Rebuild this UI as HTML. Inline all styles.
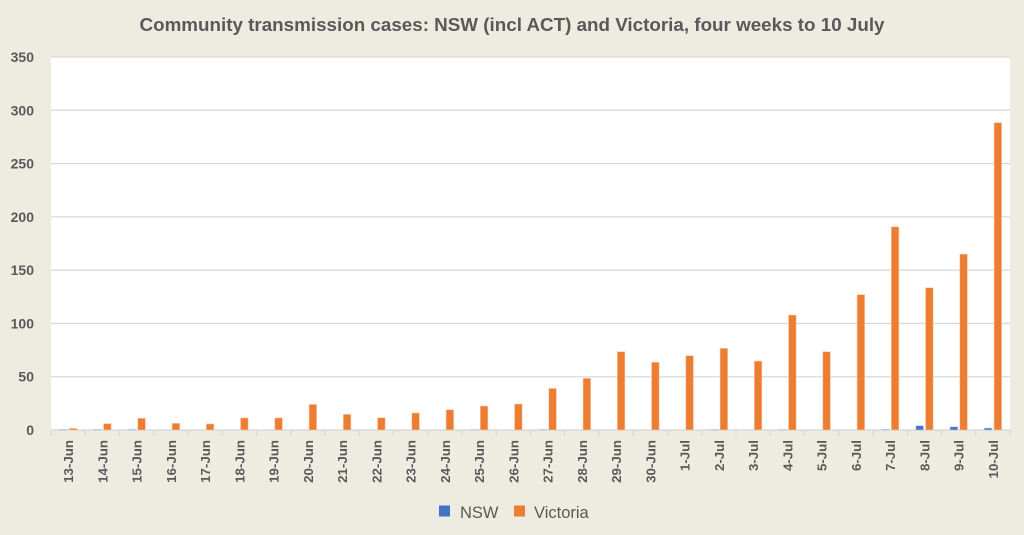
<!DOCTYPE html>
<html>
<head>
<meta charset="utf-8">
<style>
html,body{margin:0;padding:0;background:#eeebe1;}
svg{display:block;}
text{font-family:"Liberation Sans",Arial,sans-serif;fill:#595959;}
</style>
</head>
<body>
<svg width="1024" height="535" viewBox="0 0 1024 535" xmlns="http://www.w3.org/2000/svg">
<rect x="0" y="0" width="1024" height="535" fill="#eeebe1"/>
<text x="512" y="31" text-anchor="middle" font-size="18" font-weight="bold" textLength="745" lengthAdjust="spacingAndGlyphs">Community transmission cases: NSW (incl ACT) and Victoria, four weeks to 10 July</text>
<rect x="51" y="57" width="959" height="373" fill="#ffffff"/>
<g id="grid" stroke="#d9d9d9" stroke-width="1.3"></g>
<g id="ylab" font-size="14" font-weight="bold" text-anchor="end"></g>
<g id="bars"></g>
<g id="xlab" font-size="13.3" font-weight="bold" text-anchor="end"></g>
<rect x="439" y="505.5" width="11" height="11" fill="#4472c4"/>
<text x="460" y="518" font-size="16.5">NSW</text>
<rect x="514" y="505.5" width="11" height="11" fill="#ed7d31"/>
<text x="534" y="518" font-size="16.5">Victoria</text>
</svg>
<script>
(function(){
var NS="http://www.w3.org/2000/svg";
function el(tag,attrs,parent,txt){var e=document.createElementNS(NS,tag);for(var k in attrs)e.setAttribute(k,attrs[k]);if(txt!==undefined)e.textContent=txt;parent.appendChild(e);return e;}
var L=51,R=1010,B=430,T=57,sc=(B-T)/350;
var grid=document.getElementById('grid'),ylab=document.getElementById('ylab'),bars=document.getElementById('bars'),xlab=document.getElementById('xlab');
for(var v=0;v<=350;v+=50){var y=B-v*sc;el('line',{x1:L,x2:R,y1:y,y2:y},grid);el('text',{x:34,y:y+5},ylab,String(v));}
var labels=[];for(var d=13;d<=30;d++)labels.push(d+'-Jun');for(var d2=1;d2<=10;d2++)labels.push(d2+'-Jul');
var vic=[1.5,6,11,6.3,5.7,11.3,11.3,24,14.7,11.5,16,19,22.5,24.4,39,48.5,73.5,63.5,69.7,76.6,64.7,107.9,73.5,127,190.7,133.5,165,288.4];
var nsw=[0.5,0.5,0.5,0,0,0,0,0,0,0,0,0,0.3,0,0.4,0,0,0,0,0.4,0,0.3,0,0,0.6,4,3,1.8];
var cw=(R-L)/28;
for(var i=0;i<28;i++){
 var x0=L+i*cw;
 el('line',{x1:x0,x2:x0,y1:B,y2:B+6},grid);
 if(nsw[i]>0){var h=nsw[i]*sc;el('rect',{x:x0+8.6,y:B-h,width:7.6,height:h,fill:'#4472c4',stroke:'#b4c7e7','stroke-width':0.6},bars);}
 var hv=vic[i]*sc;el('rect',{x:x0+18.3,y:B-hv,width:7.6,height:hv,fill:'#ed7d31',stroke:'#f8cbad','stroke-width':0.6},bars);
 var cx=x0+cw/2+5;
 el('text',{transform:'translate('+cx+',440) rotate(-90)'},xlab,labels[i]);
}
el('line',{x1:R,x2:R,y1:B,y2:B+6},grid);
el('line',{x1:L,x2:R,y1:B,y2:B},grid);
})();
</script>
</body>
</html>
